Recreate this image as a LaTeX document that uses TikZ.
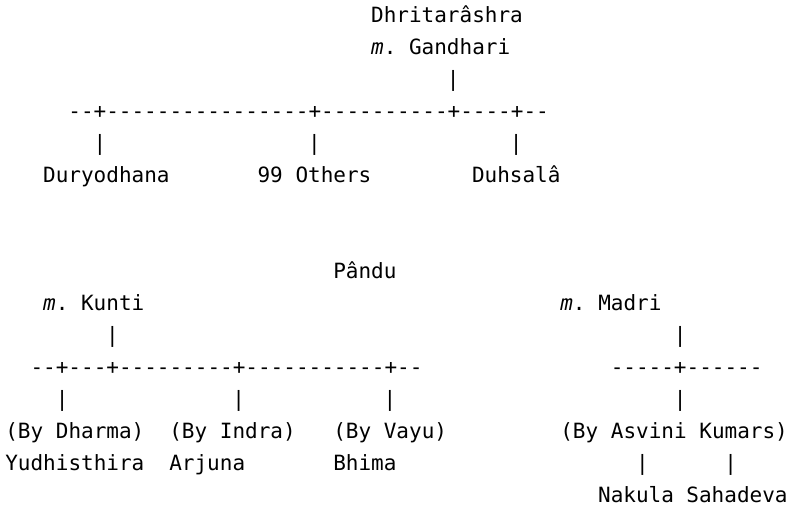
\documentclass[tikz,border=0pt]{standalone}
\usepackage{fontspec}
\setmonofont{DejaVu Sans Mono}
\usepackage{tikz}
\usetikzlibrary{positioning}

\begin{document}
\begin{tikzpicture}[x=9.46pt,y=-24pt]
            \tikzstyle{txt}=[inner sep=0pt, anchor=base west, font=\ttfamily\fontsize{15.75}{24}\selectfont]
            \useasboundingbox (0,0) rectangle (62.63,15.78);
            \begin{scope}[shift={(0.4,0.6875)}]
            \node[txt] (dhrita)   at (29,0)  {Dhritarâshra};
            \node[txt] (gandhari) at (29,1)  {\textit{m}. Gandhari};
            \node[txt] (dbar)     at (35,2)  {|};
            \node[txt] (drule)    at (5,3)   {--+----------------+----------+----+--};
            \node[txt] (dbarA)    at (7,4)   {|};
            \node[txt] (dbarB)    at (24,4)  {|};
            \node[txt] (dbarC)    at (40,4)  {|};
            \node[txt] (duryo)    at (3,5)   {Duryodhana};
            \node[txt] (others)   at (20,5)  {99 Others};
            \node[txt] (duhsala)  at (37,5)  {Duhsalâ};
            \node[txt] (pandu)    at (26,8)  {Pându};
            \node[txt] (kunti)    at (3,9)   {\textit{m}. Kunti};
            \node[txt] (madri)    at (44,9)  {\textit{m}. Madri};
            \node[txt] (kbar)     at (8,10)  {|};
            \node[txt] (mbar)     at (53,10) {|};
            \node[txt] (krule)    at (2,11)  {--+---+---------+-----------+--};
            \node[txt] (mrule)    at (48,11) {-----+------};
            \node[txt] (kbarA)    at (4,12)  {|};
            \node[txt] (kbarB)    at (18,12) {|};
            \node[txt] (kbarC)    at (30,12) {|};
            \node[txt] (mbarA)    at (53,12) {|};
            \node[txt] (dharma)   at (0,13)  {(By Dharma)};
            \node[txt] (indra)    at (13,13) {(By Indra)};
            \node[txt] (vayu)     at (26,13) {(By Vayu)};
            \node[txt] (asvini)   at (44,13) {(By Asvini Kumars)};
            \node[txt] (yudhi)    at (0,14)  {Yudhisthira};
            \node[txt] (arjuna)   at (13,14) {Arjuna};
            \node[txt] (bhima)    at (26,14) {Bhima};
            \node[txt] (nbar)     at (50,14) {|};
            \node[txt] (sbar)     at (57,14) {|};
            \node[txt] (nakula)   at (47,15) {Nakula};
            \node[txt] (sahadeva) at (54,15) {Sahadeva};
            \end{scope}
          \end{tikzpicture}
\end{document}
